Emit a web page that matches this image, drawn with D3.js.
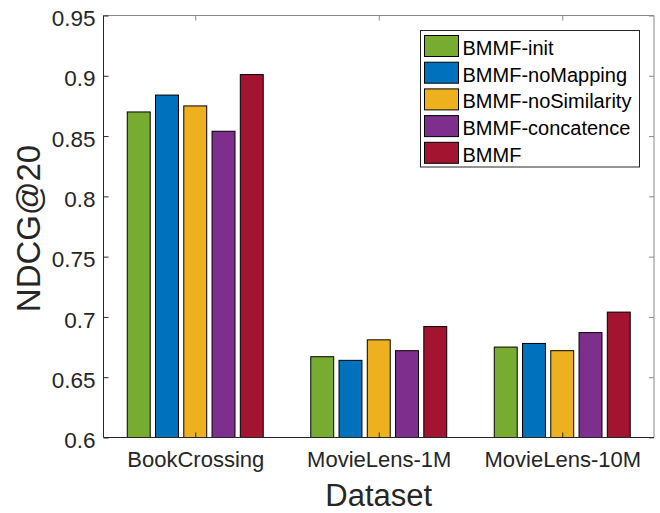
<!DOCTYPE html>
<html>
<head>
<meta charset="utf-8">
<script src="https://cdn.jsdelivr.net/npm/d3@7"></script>
<style>
  body { margin: 0; background: #fff; }
  svg { display: block; font-family: "Liberation Sans", Arial, Helvetica, sans-serif; }
</style>
</head>
<body>
<div id="chart"></div>
<script>
// Data
const datasets = ['BookCrossing', 'MovieLens-1M', 'MovieLens-10M'];
const methods = ['BMMF-init', 'BMMF-noMapping', 'BMMF-noSimilarity', 'BMMF-concatence', 'BMMF'];
const colors = ['#77AC30', '#0072BD', '#EDB120', '#7E2F8E', '#A2142F'];
const values = [
    [0.870, 0.884, 0.875, 0.854, 0.901], // BookCrossing
    [0.667, 0.664, 0.681, 0.672, 0.692], // MovieLens-1M
    [0.675, 0.678, 0.672, 0.687, 0.704]  // MovieLens-10M
];
const yTicks = [0.6, 0.65, 0.7, 0.75, 0.8, 0.85, 0.9, 0.95];

const W = 660, H = 513;
const plot = { left: 103.5, right: 654, top: 15.5, bottom: 437.5 };
const axisDark = '#262626';
const axisLight = '#8a8a8a';

const svg = d3.select('#chart').append('svg')
    .attr('width', W)
    .attr('height', H);

// Scales (categories at 1..3, MATLAB style)
const x = d3.scaleLinear().domain([0.5, 3.5]).range([plot.left, plot.right]);
const y = d3.scaleLinear().domain([0.6, 0.95]).range([plot.bottom, plot.top]);

const barPitch = 0.154;
const barWidth = 0.125;

// Box lines top / right (lighter)
svg.append('line')
    .attr('x1', plot.left).attr('x2', plot.right)
    .attr('y1', plot.top).attr('y2', plot.top)
    .attr('stroke', axisLight).attr('stroke-width', 1);
svg.append('line')
    .attr('x1', plot.right).attr('x2', plot.right)
    .attr('y1', plot.top).attr('y2', plot.bottom)
    .attr('stroke', axisLight).attr('stroke-width', 1);

// Top ticks
svg.append('g')
    .attr('transform', `translate(0,${plot.top})`)
    .call(d3.axisTop(x).tickValues([1, 2, 3]).tickSize(-5).tickFormat(''))
    .call(g => g.select('.domain').remove())
    .call(g => g.selectAll('.tick line').attr('stroke', axisLight));

// Right ticks
svg.append('g')
    .attr('transform', `translate(${plot.right},0)`)
    .call(d3.axisRight(y).tickValues(yTicks).tickSize(-5).tickFormat(''))
    .call(g => g.select('.domain').remove())
    .call(g => g.selectAll('.tick line').attr('stroke', axisLight));

// Bars
const groups = svg.append('g').selectAll('g')
    .data(values)
    .join('g');

groups.selectAll('rect')
    .data((d, i) => d.map((v, j) => ({ v, j, cat: i + 1 })))
    .join('rect')
    .attr('x', d => x(d.cat + (d.j - 2) * barPitch - barWidth / 2))
    .attr('width', d => x(barWidth) - x(0))
    .attr('y', d => y(d.v))
    .attr('height', d => y(0.6) - y(d.v))
    .attr('fill', d => colors[d.j])
    .attr('stroke', '#000')
    .attr('stroke-width', 1);

// Left axis
svg.append('g')
    .attr('transform', `translate(${plot.left},0)`)
    .call(d3.axisLeft(y).tickValues(yTicks).tickSize(-5).tickPadding(8)
        .tickFormat(d => d3.format('')(+d.toFixed(2))))
    .call(g => g.select('.domain').attr('stroke', axisDark).attr('d', `M0,${plot.top}V${plot.bottom}`))
    .call(g => g.selectAll('.tick line').attr('stroke', axisDark))
    .call(g => g.selectAll('.tick text')
        .attr('fill', axisDark)
        .attr('font-size', 22.5)
        .attr('dy', '0.45em'));

// Bottom axis
svg.append('g')
    .attr('transform', `translate(0,${plot.bottom})`)
    .call(d3.axisBottom(x).tickValues([1, 2, 3]).tickSize(-5).tickPadding(14)
        .tickFormat(d => datasets[d - 1]))
    .call(g => g.select('.domain').attr('stroke', axisDark).attr('d', `M${plot.left},0H${plot.right}`))
    .call(g => g.selectAll('.tick line').attr('stroke', axisDark))
    .call(g => g.selectAll('.tick text')
        .attr('fill', axisDark)
        .attr('font-size', 22)
        .attr('dy', '0.71em'));

// Axis labels
svg.append('text')
    .attr('x', (plot.left + plot.right) / 2)
    .attr('y', 506)
    .attr('text-anchor', 'middle')
    .attr('font-size', 31)
    .attr('fill', axisDark)
    .text('Dataset');

svg.append('text')
    .attr('transform', `translate(40,${(plot.top + plot.bottom) / 2 + 2}) rotate(-90)`)
    .attr('text-anchor', 'middle')
    .attr('font-size', 33)
    .attr('fill', axisDark)
    .text('NDCG@20');

// Legend
const legend = svg.append('g').attr('transform', 'translate(420.5,30.5)');
legend.append('rect')
    .attr('width', 219)
    .attr('height', 136.5)
    .attr('fill', '#fff')
    .attr('stroke', axisDark)
    .attr('stroke-width', 1);

const items = legend.selectAll('g.item')
    .data(methods)
    .join('g')
    .attr('class', 'item')
    .attr('transform', (d, i) => `translate(0,${5 + i * 26.7})`);

items.append('rect')
    .attr('x', 4)
    .attr('width', 34)
    .attr('height', 21)
    .attr('fill', (d, i) => colors[i])
    .attr('stroke', '#000')
    .attr('stroke-width', 1);

items.append('text')
    .attr('x', 42)
    .attr('y', 19.5)
    .attr('font-size', 20)
    .attr('fill', '#000')
    .text(d => d);
</script>
</body>
</html>
